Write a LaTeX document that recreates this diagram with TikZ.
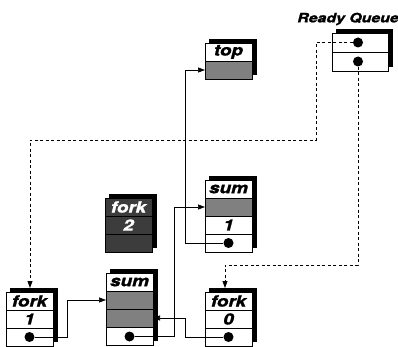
\documentclass[tikz,border=0pt]{standalone}
\usepackage{fontspec}
\newfontfamily\heros[BoldItalicFeatures={FakeBold=1.2}]{TeX Gyre Heros}
\usetikzlibrary{arrows.meta,calc}
\definecolor{midgray}{HTML}{808080}
\definecolor{darkbox}{HTML}{3C3C3C}
\newcommand{\bt}[1]{\scalebox{1.22}[1]{#1}}
\tikzset{
  row/.style={draw, line width=0.7pt, minimum width=47pt, minimum height=18pt, inner sep=0pt, outer sep=0pt, anchor=north west, fill=white,
    font=\heros\fontsize{15.5}{15.5}\selectfont\bfseries\itshape},
  grayrow/.style={row, fill=midgray},
  darkrow/.style={row, fill=darkbox, text=white},
  dot/.style={circle, fill=black, inner sep=0pt, minimum size=10pt},
  link/.style={line width=0.7pt, -{Triangle[length=7pt,width=5pt]}},
  dlink/.style={line width=0.8pt, dash pattern=on 3pt off 2.5pt, -{Triangle[length=7pt,width=5pt]}},
  shadowbox/.style={fill=black}
}
\begin{document}
\begin{tikzpicture}[x=1pt,y=-1pt]
\useasboundingbox (0,0) rectangle (398,347);
% shadows
\fill[shadowbox] (209,39) rectangle (257,75);
\fill[shadowbox] (336,29) rectangle (393,67);
\fill[shadowbox] (209,176) rectangle (257,248);
\fill[shadowbox] (109,194) rectangle (157,248);
\fill[shadowbox] (110,269) rectangle (158,341);
\fill[shadowbox] (10,288) rectangle (58,342);
\fill[shadowbox] (209,288) rectangle (257,342);
% Ready Queue
\node[font=\heros\fontsize{13}{13}\selectfont\bfseries\itshape] (rqlabel) at (348,19) {\bt{Ready Queue}};
\node[row, minimum width=56pt, minimum height=19pt] (rq1) at (332,33) {};
\node[row, minimum width=56pt, minimum height=19pt] (rq2) at (332,52) {};
\node[dot] (rqd1) at (358,42.5) {};
\node[dot] (rqd2) at (358,61.5) {};
% top
\node[row] (t1) at (205,43) {\bt{top}};
\node[grayrow] (t2) at (205,61) {};
% sum 1
\node[row] (s1r1) at (205,180) {\bt{sum}};
\node[grayrow] (s1r2) at (205,198) {};
\node[row] (s1r3) at (205,216) {\bt{1}};
\node[row] (s1r4) at (205,234) {};
\node[dot] (s1d) at (228.5,243) {};
% fork 2
\node[darkrow] (f2r1) at (105,198) {\bt{fork}};
\node[darkrow] (f2r2) at (105,216) {\bt{2}};
\node[darkrow] (f2r3) at (105,234) {};
% sum 2
\node[row] (s2r1) at (106,273) {\bt{sum}};
\node[grayrow] (s2r2) at (106,291) {};
\node[grayrow] (s2r3) at (106,309) {};
\node[row] (s2r4) at (106,327) {};
\node[dot] (s2d) at (129.5,336.5) {};
% fork 1
\node[row] (f1r1) at (6,292) {\bt{fork}};
\node[row] (f1r2) at (6,310) {\bt{1}};
\node[row] (f1r3) at (6,328) {};
\node[dot] (f1d) at (29.5,337) {};
% fork 0
\node[row] (f0r1) at (205,292) {\bt{fork}};
\node[row] (f0r2) at (205,310) {\bt{0}};
\node[row] (f0r3) at (205,328) {};
\node[dot] (f0d) at (228.5,337) {};
% connector targets
\coordinate (f1top) at ($(f1r1.north)+(0.5,-4)$);
\coordinate (f0top) at ($(f0r1.north)+(-3.5,-4)$);
% dashed queue links
\draw[dlink] (rqd1.west) -- (316,42.5) -- (316,140) -| (f1top);
\draw[dlink] (rqd2.south) -- (358,265) -| (f0top);
% solid links
\draw[link] (s1d.west) -- (185,243) |- (t2.west);
\draw[link] (s2d.east) -- (174,336.5) |- (s1r2.west);
\draw[link] (f1d.east) -- (67,337) |- (s2r2.west);
\draw[link] (f0d.west) -- (185,337) |- (s2r3.east);
\end{tikzpicture}
\end{document}
